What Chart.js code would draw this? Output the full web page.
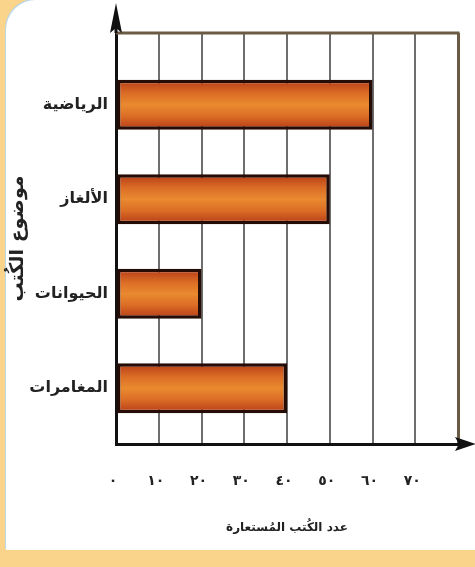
<!DOCTYPE html>
<html>
<head>
<meta charset="utf-8">
<script src="https://cdn.jsdelivr.net/npm/chart.js@4"></script>
<style>
  html, body { margin: 0; padding: 0; }
  body { width: 475px; height: 567px; background: #f9d48a; position: relative; overflow: hidden; }
  #panel { position: absolute; left: 6px; top: 0; width: 469px; height: 550px; background: #fff;
           border-top-left-radius: 30px; box-shadow: -1px -1px 0 #bcd7e6; }
  #wrap { position: absolute; left: 0; top: 0; width: 475px; height: 567px; }
</style>
</head>
<body>
<div id="panel"></div>
<div id="wrap"><canvas id="chart" width="475" height="567"></canvas></div>
<script>
const categories = ['الرياضية', 'الألغاز', 'الحيوانات', 'المغامرات'];
const borrowed = [60, 50, 20, 40];
const xTickLabels = ['٠', '١٠', '٢٠', '٣٠', '٤٠', '٥٠', '٦٠', '٧٠'];
const xTitle = 'عدد الكُتب المُستعارة';
const yTitle = 'موضوع الكُتب';

Chart.defaults.font.family = 'DejaVu Sans';
Chart.defaults.color = '#333';

// vertical orange gradient for each bar, plus frame and arrows
const decor = {
    id: 'decor',
    beforeDatasetsDraw(chart) {
        const ctx = chart.ctx;
        chart.getDatasetMeta(0).data.forEach(bar => {
            const top = bar.y - bar.height / 2;
            const g = ctx.createLinearGradient(0, top, 0, top + bar.height);
            g.addColorStop(0, '#b53a16');
            g.addColorStop(0.28, '#dc6e26');
            g.addColorStop(0.5, '#e98a30');
            g.addColorStop(0.72, '#dc6e26');
            g.addColorStop(1, '#b53a16');
            bar.options.backgroundColor = g;
        });
    },
    afterDraw(chart) {
        const ctx = chart.ctx;
        const a = chart.chartArea;
        ctx.save();
        ctx.strokeStyle = '#6b5b45';
        ctx.lineWidth = 3;
        ctx.beginPath();
        ctx.moveTo(a.left, a.top);
        ctx.lineTo(a.right + 1.5, a.top);
        ctx.stroke();

        ctx.strokeStyle = '#111';
        ctx.fillStyle = '#111';
        ctx.lineWidth = 3;
        ctx.beginPath();
        ctx.moveTo(a.left, a.top);
        ctx.lineTo(a.left, 20);
        ctx.moveTo(a.right, a.bottom);
        ctx.lineTo(462, a.bottom);
        ctx.stroke();

        ctx.beginPath();
        ctx.moveTo(a.left, 3);
        ctx.lineTo(a.left - 6, 33);
        ctx.lineTo(a.left, 28);
        ctx.lineTo(a.left + 6, 33);
        ctx.closePath();
        ctx.fill();

        ctx.beginPath();
        ctx.moveTo(476, a.bottom);
        ctx.lineTo(455, a.bottom - 7);
        ctx.lineTo(459, a.bottom);
        ctx.lineTo(455, a.bottom + 7);
        ctx.closePath();
        ctx.fill();
        ctx.restore();
    }
};

new Chart(document.getElementById('chart'), {
    type: 'bar',
    data: {
        datasets: [{
            data: borrowed.map((v, i) => ({ x: v, y: i })),
            backgroundColor: () => '#e07a2a',
            borderColor: '#250c04',
            borderWidth: 3.5,
            borderSkipped: false,
            categoryPercentage: 1,
            barPercentage: 0.53
        }]
    },
    options: {
        indexAxis: 'y',
        responsive: false,
        animation: false,
        layout: { padding: { top: 33, right: 17, left: 0, bottom: 0 } },
        plugins: { legend: { display: false }, tooltip: { enabled: false } },
        scales: {
            x: {
                type: 'linear',
                min: 0,
                max: 80,
                afterFit: scale => {
                    scale.height = 123;
                    scale.paddingLeft = 0;
                    scale.paddingRight = 0;
                },
                ticks: {
                    stepSize: 10,
                    padding: 29,
                    labelOffset: -3,
                    color: '#222',
                    font: { size: 14, weight: 'bold' },
                    callback: v => xTickLabels[v / 10] ?? ''
                },
                grid: {
                    drawTicks: false,
                    color: c => c.tick && c.tick.value === 80 ? '#6b5b45' : '#6e6e6e',
                    lineWidth: c => c.tick && c.tick.value === 80 ? 3 : 2
                },
                border: { color: '#111', width: 3 },
                title: {
                    display: true,
                    text: xTitle,
                    color: '#222',
                    font: { size: 12, weight: 'bold' },
                    padding: { top: 0, bottom: 32 }
                }
            },
            y: {
                type: 'linear',
                offset: false,
                reverse: true,
                min: -0.76,
                max: 3.59,
                afterFit: scale => { scale.width = 116; },
                afterBuildTicks: scale => { scale.ticks = categories.map((c, i) => ({ value: i })); },
                ticks: {
                    padding: 8,
                    color: '#222',
                    font: { size: 16, weight: 'bold' },
                    callback: v => categories[v]
                },
                grid: { display: false, drawTicks: false },
                border: { color: '#111', width: 3 },
                title: {
                    display: true,
                    text: yTitle,
                    color: '#222',
                    font: { size: 19, weight: 'bold' },
                    padding: { top: 7, bottom: 0 }
                }
            }
        }
    },
    plugins: [decor]
});
</script>
</body>
</html>
